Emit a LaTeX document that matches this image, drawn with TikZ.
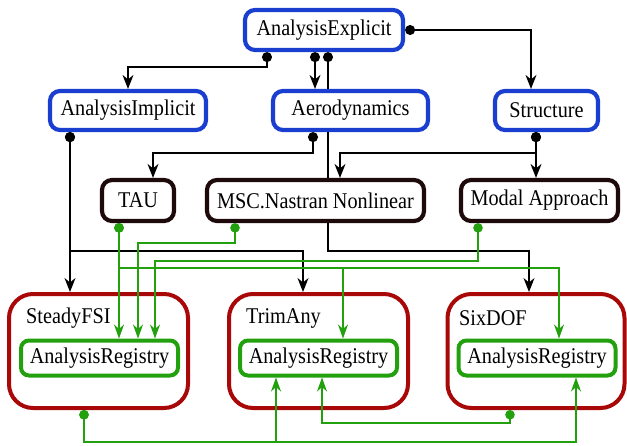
\documentclass[tikz,border=0pt]{standalone}
\usepackage{fontspec}
\setmainfont{Liberation Serif}[FakeStretch=0.9]
\usetikzlibrary{arrows.meta}
\definecolor{cblue}{HTML}{1A3FD0}
\definecolor{cdark}{HTML}{1E0A0A}
\definecolor{cred}{HTML}{A80808}
\definecolor{cgreen}{HTML}{22A00E}
\tikzset{
  txt/.style={font=\fontsize{22.5}{26}\selectfont, inner sep=0pt, align=center},
  bluebox/.style={txt, draw=cblue, line width=4.2pt, fill=white, rounded corners=10pt, minimum height=40pt},
  darkbox/.style={txt, draw=cdark, line width=4.2pt, fill=white, rounded corners=10pt, minimum height=41pt},
  outerbox/.style={draw=cred, line width=4pt, fill=white, rounded corners=24pt, minimum width=179pt, minimum height=114pt, inner sep=0pt},
  regbox/.style={txt, draw=cgreen, line width=4pt, fill=white, rounded corners=8pt, minimum width=157pt, minimum height=35pt},
  lbl/.style={txt, anchor=west},
  blk/.style={draw=black, line width=1.2pt, {Circle[length=10pt]}-{Stealth[length=14pt,width=11pt,inset=4.5pt]}},
  grn/.style={draw=cgreen, line width=1.2pt, {Circle[length=9.5pt]}-{Stealth[length=14pt,width=10pt,inset=4.5pt]}}
}
\begin{document}
\begin{tikzpicture}[x=1pt,y=-1pt]
\useasboundingbox (0,0) rectangle (627,445);
% nodes
\node[bluebox, minimum width=158pt] (ae) at (324,30) {AnalysisExplicit};
\node[bluebox, minimum width=156pt, minimum height=39pt] (ai) at (128,110.5) {AnalysisImplicit};
\node[bluebox, minimum width=103pt, minimum height=39pt] (st) at (546.5,110.5) {Structure};
\node[darkbox, minimum width=72pt] (tau) at (138,200.5) {TAU};
\node[darkbox, minimum width=157pt] (modal) at (539.5,200.5) {Modal Approach};
\node[outerbox] (sfsi) at (98.5,351) {};
\node[outerbox] (trim) at (318.5,351) {};
\node[outerbox, minimum width=177pt] (six) at (536,351) {};
\node[lbl] (sfsil) at (26,318) {SteadyFSI};
\node[lbl] (triml) at (246,318) {TrimAny};
\node[lbl] (sixl) at (459,318) {SixDOF};
\node[regbox] (sreg) at (99.5,358) {AnalysisRegistry};
\node[regbox] (treg) at (318.5,358) {AnalysisRegistry};
\node[regbox] (xreg) at (537,358) {AnalysisRegistry};
% connector passing behind Aerodynamics and MSC.Nastran
\draw[blk] (328,0 |- ae.south) |- (529,251) -- (529,0 |- six.north);
\node[bluebox, minimum width=155pt, minimum height=39pt] (aero) at (350.5,110.5) {Aerodynamics};
\node[darkbox, minimum width=217pt] (msc) at (315.5,200.5) {MSC.Nastran Nonlinear};
% black connectors
\draw[blk] (267,0 |- ae.south) |- (128,67) -- (128,0 |- ai.north);
\draw[blk] (315,0 |- ae.south) -- (315,0 |- aero.north);
\draw[blk] (ae.east) -| (531,0 |- st.north);
\draw[blk] (70,0 |- ai.south) -- (70,0 |- sfsi.north);
\draw[blk] (70,0 |- ai.south) |- (303,251) -- (303,0 |- trim.north);
\draw[blk] (313,0 |- aero.south) |- (153,153) -- (153,0 |- tau.north);
\draw[blk] (536,0 |- st.south) -- (536,0 |- modal.north);
\draw[blk] (536,0 |- st.south) |- (340,153) -- (340,0 |- msc.north);
% green connectors
\draw[grn] (119,0 |- tau.south) -- (119,0 |- sreg.north);
\draw[grn] (119,0 |- tau.south) |- (343,268) -- (343,0 |- treg.north);
\draw[grn] (119,0 |- tau.south) |- (559,268) -- (559,0 |- xreg.north);
\draw[grn] (235,0 |- msc.south) |- (138,243) -- (138,0 |- sreg.north);
\draw[grn] (478,0 |- modal.south) |- (155,261) -- (155,0 |- sreg.north);
\draw[grn] (84,0 |- sfsi.south) |- (276,442) -- (276,0 |- treg.south);
\draw[grn] (84,0 |- sfsi.south) |- (576,442) -- (576,0 |- xreg.south);
\draw[grn] (510,0 |- six.south) |- (322,423) -- (322,0 |- treg.south);
\end{tikzpicture}
\end{document}
